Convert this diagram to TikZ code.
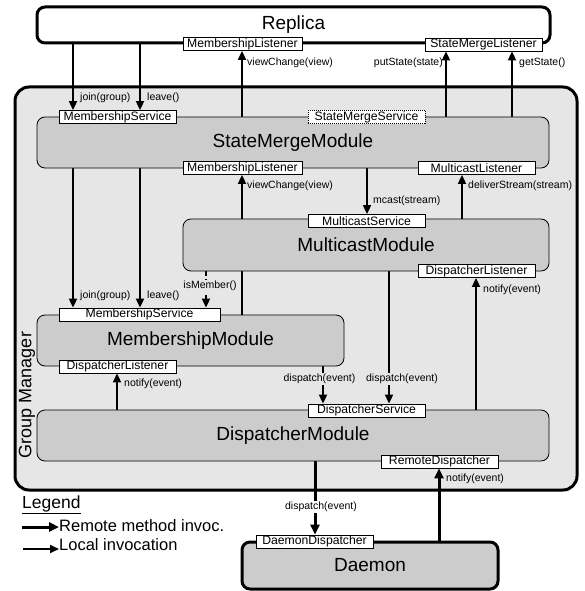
\documentclass[tikz,border=0pt]{standalone}
\usepackage{fontspec}
\setmainfont{Liberation Sans}
\usetikzlibrary{arrows.meta,positioning}
\definecolor{gmgray}{RGB}{230,230,230}
\definecolor{modgray}{RGB}{204,204,204}
\pgfdeclarelayer{bg}
\pgfdeclarelayer{arr}
\pgfsetlayers{bg,arr,main}
\tikzset{
  module/.style={draw, fill=modgray, rounded corners=8pt, line width=0.8pt, inner sep=0pt, font=\fontsize{19}{19}\selectfont},
  port/.style={draw, fill=white, line width=0.8pt, minimum width=117pt, minimum height=13pt, inner sep=0pt, font=\fontsize{12.2}{12.5}\selectfont},
  lbl/.style={font=\fontsize{10.5}{11}\selectfont, inner sep=1pt},
  local/.style={line width=1.8pt, -{Triangle[length=9pt,width=8pt]}},
  remote/.style={line width=3pt, -{Triangle[length=10pt,width=9pt]}},
  legtext/.style={font=\fontsize{16.5}{17}\selectfont, inner sep=0pt, anchor=west},
}
\begin{document}
\begin{tikzpicture}[x=1pt,y=-1pt]
\useasboundingbox (0,0) rectangle (584,591);
% containers
\node[draw, fill=white, line width=3pt, rounded corners=8pt, minimum width=513pt, minimum height=36pt, inner sep=0pt, font=\fontsize{19}{19}\selectfont] (replica) at (293.5,25) {Replica};
\begin{pgfonlayer}{bg}
\node[draw, fill=gmgray, line width=3pt, rounded corners=14pt, minimum width=562pt, minimum height=403pt, inner sep=0pt] (gm) at (296,288.5) {};
\end{pgfonlayer}
\node[rotate=90, font=\fontsize{18}{18}\selectfont, inner sep=0pt] (gmlabel) at (27,395) {Group Manager};
% modules
\node[module, minimum width=512pt, minimum height=51pt] (smm) at (293,142.5) {StateMergeModule};
\node[module, minimum width=366pt, minimum height=52pt] (mcm) at (366,245) {MulticastModule};
\node[module, minimum width=307pt, minimum height=51pt] (mbm) at (190.5,340.5) {MembershipModule};
\node[module, minimum width=512pt, minimum height=51pt] (dsm) at (293,435.5) {DispatcherModule};
\node[module, line width=3pt, minimum width=256pt, minimum height=47pt] (daemon) at (370,565.5) {Daemon};
% ports
\node[port, minimum width=119pt] (mlR) at (242.5,44) {MembershipListener};
\node[port] (smlR) at (483.5,44.5) {StateMergeListener};
\node[port] (msS) at (117.5,117) {MembershipService};
\node[port, dash pattern=on 1pt off 1pt] (smsS) at (366.5,117) {StateMergeService};
\node[port, minimum width=119pt] (mlS) at (242.5,168) {MembershipListener};
\node[port] (mclS) at (476.5,168) {MulticastListener};
\node[port] (mcsM) at (366.5,221) {MulticastService};
\node[port] (dlM) at (476.5,271) {DispatcherListener};
\node[port, minimum width=161pt] (msMM) at (139.5,314.5) {MembershipService};
\node[port] (dlMM) at (117.5,366.5) {DispatcherListener};
\node[port] (dsD) at (366.5,410.5) {DispatcherService};
\node[port] (rdD) at (439.5,461.5) {RemoteDispatcher};
\node[port] (ddD) at (314.5,541.5) {DaemonDispatcher};
% x positions of connectors
\coordinate (xj) at (73,0);
\coordinate (xl) at (140,0);
\coordinate (xv) at (242,0);
\coordinate (xp) at (446,0);
\coordinate (xg) at (512,0);
\coordinate (xm) at (367,0);
\coordinate (xds) at (462,0);
\coordinate (xi) at (206,0);
\coordinate (xna) at (476,0);
\coordinate (xnb) at (117,0);
\coordinate (xda) at (323,0);
\coordinate (xdb) at (389,0);
\coordinate (xdc) at (315,0);
\coordinate (xnc) at (439,0);
% connectors
\begin{pgfonlayer}{arr}
\draw[local] (replica.south -| xj) -- (msS.north -| xj);
\draw[local] (replica.south -| xl) -- (msS.north -| xl);
\draw[local] (smm.north -| xv) -- (mlR.south -| xv);
\draw[local] (smm.north -| xp) -- (smlR.south -| xp);
\draw[local] (smm.north -| xg) -- (smlR.south -| xg);
\draw[local] (smm.south -| xj) -- (msMM.north -| xj);
\draw[local] (smm.south -| xl) -- (msMM.north -| xl);
\draw[local] (mbm.north -| xv) -- (mlS.south -| xv);
\draw[local] (smm.south -| xm) -- (mcsM.north -| xm);
\draw[local] (mcm.north -| xds) -- (mclS.south -| xds);
\draw[local, dash pattern=on 5pt off 3pt] (mcm.south -| xi) -- (msMM.north -| xi);
\draw[local] (dsm.north -| xna) -- (dlM.south -| xna);
\draw[local] (dsm.north -| xnb) -- (dlMM.south -| xnb);
\draw[local] (mbm.south -| xda) -- (dsD.north -| xda);
\draw[local] (mcm.south -| xdb) -- (dsD.north -| xdb);
\draw[remote] (dsm.south -| xdc) -- (ddD.north -| xdc);
\draw[remote] (daemon.north -| xnc) -- (rdD.south -| xnc);
\end{pgfonlayer}
% labels
\node[lbl, anchor=west] (l1) at (79,98) {join(group)};
\node[lbl, anchor=west] (l2) at (146,98) {leave()};
\node[lbl, anchor=west] (l3) at (246,63) {viewChange(view)};
\node[lbl, anchor=east] (l4) at (444,63) {putState(state)};
\node[lbl, anchor=west] (l5) at (518,63) {getState()};
\node[lbl, anchor=west] (l6) at (79,296) {join(group)};
\node[lbl, anchor=west] (l7) at (146,296) {leave()};
\node[lbl, fill=gmgray] (l8) at (210,286) {isMember()};
\node[lbl, anchor=west] (l9) at (246,186) {viewChange(view)};
\node[lbl, anchor=west] (l10) at (372,201) {mcast(stream)};
\node[lbl, anchor=west] (l11) at (467,186) {deliverStream(stream)};
\node[lbl, anchor=west] (l12) at (482,290) {notify(event)};
\node[lbl, anchor=west] (l13) at (123,384) {notify(event)};
\node[lbl, fill=gmgray] (l14) at (319.5,379) {dispatch(event)};
\node[lbl, fill=gmgray] (l15) at (402,379) {dispatch(event)};
\node[lbl, fill=white] (l16) at (321,507) {dispatch(event)};
\node[lbl, anchor=west] (l17) at (445,479) {notify(event)};
% legend
\node[anchor=west, inner sep=0pt, font=\fontsize{17.5}{18}\selectfont] (legend) at (22,505) {\underline{Legend}};
\coordinate (lr) at (22,527);
\node[legtext] (lrem) at (59,525.5) {Remote method invoc.};
\draw[remote] (lr) -- (lrem.west |- lr);
\coordinate (ll) at (23,549);
\node[legtext] (lloc) at (59,545) {Local invocation};
\draw[local] (ll) -- (lloc.west |- ll);
\end{tikzpicture}
\end{document}
